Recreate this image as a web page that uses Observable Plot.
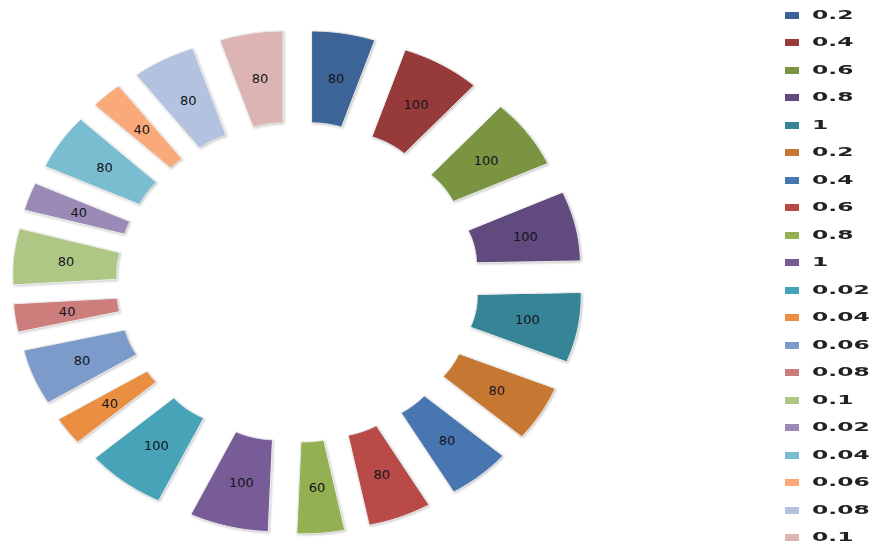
<!DOCTYPE html>
<html>
<head>
<meta charset="utf-8">
<script src="https://cdn.jsdelivr.net/npm/d3@7"></script>
<script src="https://cdn.jsdelivr.net/npm/@observablehq/plot@0.6"></script>
<style>
  body { margin: 0; background: #fff; }
  #wrap { position: relative; width: 877px; height: 547px; overflow: hidden; }
  #chart { position: absolute; left: 0; top: 0; }
  #legend { position: absolute; left: 785px; top: 0; }
  .item { position: absolute; left: 0; height: 16px; white-space: nowrap; }
  .sw { position: absolute; left: 0; top: 5px; width: 14px; height: 7px; }
  .lt { position: absolute; left: 27px; top: 0; font: bold 13px "DejaVu Sans", sans-serif; color: #222;
        line-height: 16px; transform: scaleX(1.8); transform-origin: left center; }
</style>
</head>
<body>
<div id="wrap"><div id="chart"></div><div id="legend"></div></div>
<script>
// Data
const seriesLabels = ["0.2","0.4","0.6","0.8","1","0.2","0.4","0.6","0.8","1",
                      "0.02","0.04","0.06","0.08","0.1","0.02","0.04","0.06","0.08","0.1"];
const values = [80,100,100,100,100,80,80,80,60,100,100,40,80,40,80,40,80,40,80,80];
const colors = ["#3C6496","#963A3A","#7A9441","#614A7D","#368596",
                "#C67832","#4876B0","#B84A47","#93B152","#785C98",
                "#47A3B8","#EA8E41","#7C9ACA","#CD7D7B","#AEC785",
                "#9B89B6","#7BBDD0","#F9AA78","#B3C3DF","#DDB4B4"];

// doughnut geometry in data units
const rIn = 0.47, rOut = 1.0, explode = 0.455, steps = 48;
const total = d3.sum(values);
const slices = [];
const pts = [];
let cum = 0;
values.forEach((v, i) => {
  const a0 = cum / total * 2 * Math.PI;
  const a1 = (cum + v) / total * 2 * Math.PI;
  const mid = (a0 + a1) / 2;
  const ox = explode * Math.sin(mid), oy = explode * Math.cos(mid);
  for (let k = 0; k <= steps; k++) {
    const a = a0 + (a1 - a0) * k / steps;
    pts.push({i, x1: ox + rIn * Math.sin(a), y1: oy + rIn * Math.cos(a),
                 x2: ox + rOut * Math.sin(a), y2: oy + rOut * Math.cos(a)});
  }
  const rl = (rIn + rOut) / 2;
  slices.push({i, value: v, x: ox + rl * Math.sin(mid), y: oy + rl * Math.cos(mid)});
  cum += v;
});

const chart = Plot.plot({
  width: 600, height: 547,
  marginLeft: 3.5, marginRight: 8.5, marginTop: 22.2, marginBottom: 5.2,
  x: {domain: [-1.5, 1.5], axis: null},
  y: {domain: [-1.5, 1.5], axis: null},
  color: {type: "ordinal", domain: d3.range(values.length), range: colors},
  style: {background: "transparent", overflow: "visible"},
  marks: [
    Plot.area(pts, {x1: "x1", y1: "y1", x2: "x2", y2: "y2", z: "i", fill: "i",
                    stroke: "#ececec", strokeWidth: 1}),
    Plot.text(slices, {x: "x", y: "y", text: "value", fill: "#141420",
                       fontSize: 13, fontFamily: "DejaVu Sans"})
  ]
});
chart.querySelectorAll('g[aria-label="area"] path').forEach(p =>
  p.setAttribute("style", "filter: drop-shadow(1px 1.5px 1px rgba(0,0,0,0.22))"));
document.getElementById("chart").appendChild(chart);

const legend = document.getElementById("legend");
seriesLabels.forEach((lab, i) => {
  const it = document.createElement("div");
  it.className = "item";
  it.style.top = (6.5 + i * 27.5) + "px";
  const sw = document.createElement("div");
  sw.className = "sw"; sw.style.background = colors[i];
  const t = document.createElement("div");
  t.className = "lt"; t.textContent = lab;
  it.appendChild(sw); it.appendChild(t);
  legend.appendChild(it);
});
</script>
</body>
</html>
